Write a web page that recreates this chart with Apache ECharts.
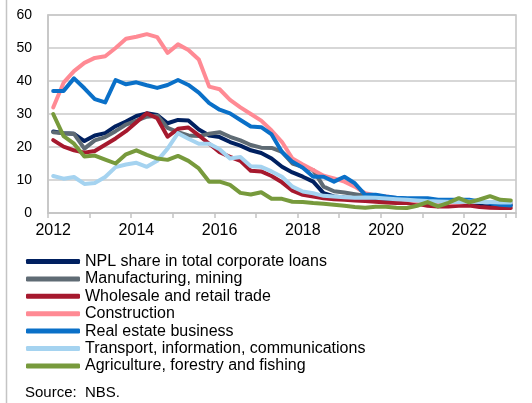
<!DOCTYPE html>
<html>
<head>
<meta charset="utf-8">
<script src="https://cdn.jsdelivr.net/npm/echarts@6/dist/echarts.min.js"></script>
<style>
html,body{margin:0;padding:0;background:#fff;}
#chart{width:532px;height:403px;}
</style>
</head>
<body>
<div id="chart"></div>
<script>
var quarters = ['2012Q1','2012Q2','2012Q3','2012Q4','2013Q1','2013Q2','2013Q3','2013Q4',
'2014Q1','2014Q2','2014Q3','2014Q4','2015Q1','2015Q2','2015Q3','2015Q4',
'2016Q1','2016Q2','2016Q3','2016Q4','2017Q1','2017Q2','2017Q3','2017Q4',
'2018Q1','2018Q2','2018Q3','2018Q4','2019Q1','2019Q2','2019Q3','2019Q4',
'2020Q1','2020Q2','2020Q3','2020Q4','2021Q1','2021Q2','2021Q3','2021Q4',
'2022Q1','2022Q2','2022Q3','2022Q4','2023Q1'];

var yTicks = [0, 10, 20, 30, 40, 50, 60];

var seriesNames = ['NPL share in total corporate loans','Manufacturing, mining','Wholesale and retail trade','Construction','Real estate business','Transport, information, communications','Agriculture, forestry and fishing'];

var nplTotal = [24.7,24.2,24,21.8,23.5,24.2,26.3,27.7,29.4,30.2,29.7,27.2,28.2,28,25.3,23.5,23,21.5,20.4,19,18.2,16.5,14,12.3,11,9.5,6,5,4.7,4.5,4.3,4,3.9,3.7,3.5,3.3,3.2,3,3,2.9,2.8,2.6,2.5,2.4,2.4];
var manufacturing = [24.5,24.2,24,19.5,22,23,24.8,26.8,28,29.2,29.5,25.8,24.5,23.5,23.3,24,24.5,23.1,22,20.6,19.8,19.7,18.5,15,14,13,8,6.6,6.2,5.7,5.2,5,4.7,4.5,4.3,4.2,4,3.8,3.6,3.5,3.4,3.3,3.2,3.1,3];
var wholesale = [22.1,20.1,19,18.3,18.8,20.7,22.6,24.8,27.5,30.2,28.7,23.1,25.5,25.9,23.5,21,18.4,17,15.8,12.8,12.6,11.2,9.3,6.8,5.5,5,4.5,4.2,4,3.8,3.6,3.4,3.2,3,3,2.8,2.2,2,2,2.2,2.3,1.8,1.6,1.5,1.5];
var construction = [32,39.5,43,45.5,47,47.5,50,52.8,53.4,54.2,53.3,48.5,51.1,49.4,46.5,38.3,37.5,34.3,32,30,28,25,21.5,16.5,14.7,13,11.3,10.5,9.5,8,6,5.3,5,4.5,4,3.5,3.5,3,3,3.2,3.5,3.5,3,2.8,2.8];
var realEstate = [37,37,40.8,37.8,34.5,33.5,40.3,39,39.6,38.7,37.9,38.8,40.3,38.8,36.5,33.3,31.3,30.2,28.2,26.2,26,23.8,18.5,15.5,13.7,11,11,9.5,11,9,5.5,5.5,5,4.6,4.5,4.5,4.5,4,4,4,4,3.5,3,2.5,2.3];
var transport = [11.2,10.4,10.9,8.8,9.1,10.9,13.9,14.7,15.2,14,15.8,19.5,24.2,22.5,21,21,19.3,16.5,17,14.2,14,12.6,11,8,6.5,6,5.2,5,4.8,4.6,4.7,4.6,4.4,4.2,4,3.8,3.6,3.5,3.4,3.3,3.5,3.3,3.3,3.2,3.2];
var agriculture = [30,23.3,21,17.1,17.4,16.2,15,17.8,19,17.6,16.5,16.1,17.3,15.8,13.5,9.5,9.5,8.5,6.1,5.6,6.3,4.3,4.3,3.4,3.3,3,2.8,2.5,2.2,1.8,1.6,1.9,1.9,1.6,1.5,2.2,3.3,2,3.1,4.5,3.2,4.1,5.1,4,3.8];

var seriesData = [nplTotal, manufacturing, wholesale, construction, realEstate, transport, agriculture];
var seriesColors = ['#002060','#5f6b74','#a6192e','#ff8a94','#0a70c8','#a5d3f0','#779a3c'];

var FONT = '"Liberation Sans", Arial, sans-serif';

var chart = echarts.init(document.getElementById('chart'), null, {renderer: 'canvas'});

var series = seriesNames.map(function (name, k) {
  return {
    name: name,
    type: 'line',
    data: seriesData[k],
    symbol: 'none',
    smooth: false,
    z: 2 + k,
    lineStyle: {width: 4, color: seriesColors[k], cap: 'round', join: 'round'},
    itemStyle: {color: seriesColors[k]},
    emphasis: {disabled: true},
    animation: false
  };
});

chart.setOption({
  animation: false,
  textStyle: {fontFamily: FONT},
  grid: {
    left: 48, top: 15, width: 468, height: 198,
    show: true, borderColor: '#c4c4c4', borderWidth: 1.5, backgroundColor: 'transparent',
    containLabel: false
  },
  xAxis: {
    type: 'category',
    data: quarters,
    boundaryGap: true,
    axisLine: {show: true, lineStyle: {color: '#c4c4c4', width: 1.5}},
    axisTick: {show: true, interval: 3, alignWithLabel: false, length: 5, lineStyle: {color: '#c4c4c4', width: 1.5}},
    axisLabel: {
      interval: 7,
      margin: 10,
      fontSize: 16,
      color: '#000',
      fontFamily: FONT,
      formatter: function (v) { return v.slice(0, 4); }
    },
    splitLine: {show: false}
  },
  yAxis: {
    type: 'value',
    min: yTicks[0],
    max: yTicks[yTicks.length - 1],
    interval: 10,
    axisLine: {show: true, lineStyle: {color: '#c4c4c4', width: 1.5}},
    axisTick: {show: false},
    axisLabel: {margin: 16, fontSize: 14, color: '#000', fontFamily: FONT},
    splitLine: {show: true, lineStyle: {color: '#cacaca', width: 1.5}}
  },
  legend: {
    orient: 'vertical',
    left: 26,
    top: 253,
    icon: 'roundRect',
    itemWidth: 54,
    itemHeight: 5,
    itemGap: 0.4,
    padding: 0,
    selectedMode: false,
    textStyle: {fontSize: 16, lineHeight: 17, color: '#000', fontFamily: FONT},
    data: seriesNames
  },
  graphic: [
    {type: 'line', shape: {x1: 6.5, y1: 0, x2: 6.5, y2: 403}, style: {stroke: '#c4c4c4', lineWidth: 1.5}, silent: true},
    {type: 'text', left: 25, top: 385, style: {text: 'Source:  NBS.', fontSize: 15, fill: '#000', fontFamily: FONT}, silent: true}
  ],
  series: series
});
</script>
</body>
</html>
